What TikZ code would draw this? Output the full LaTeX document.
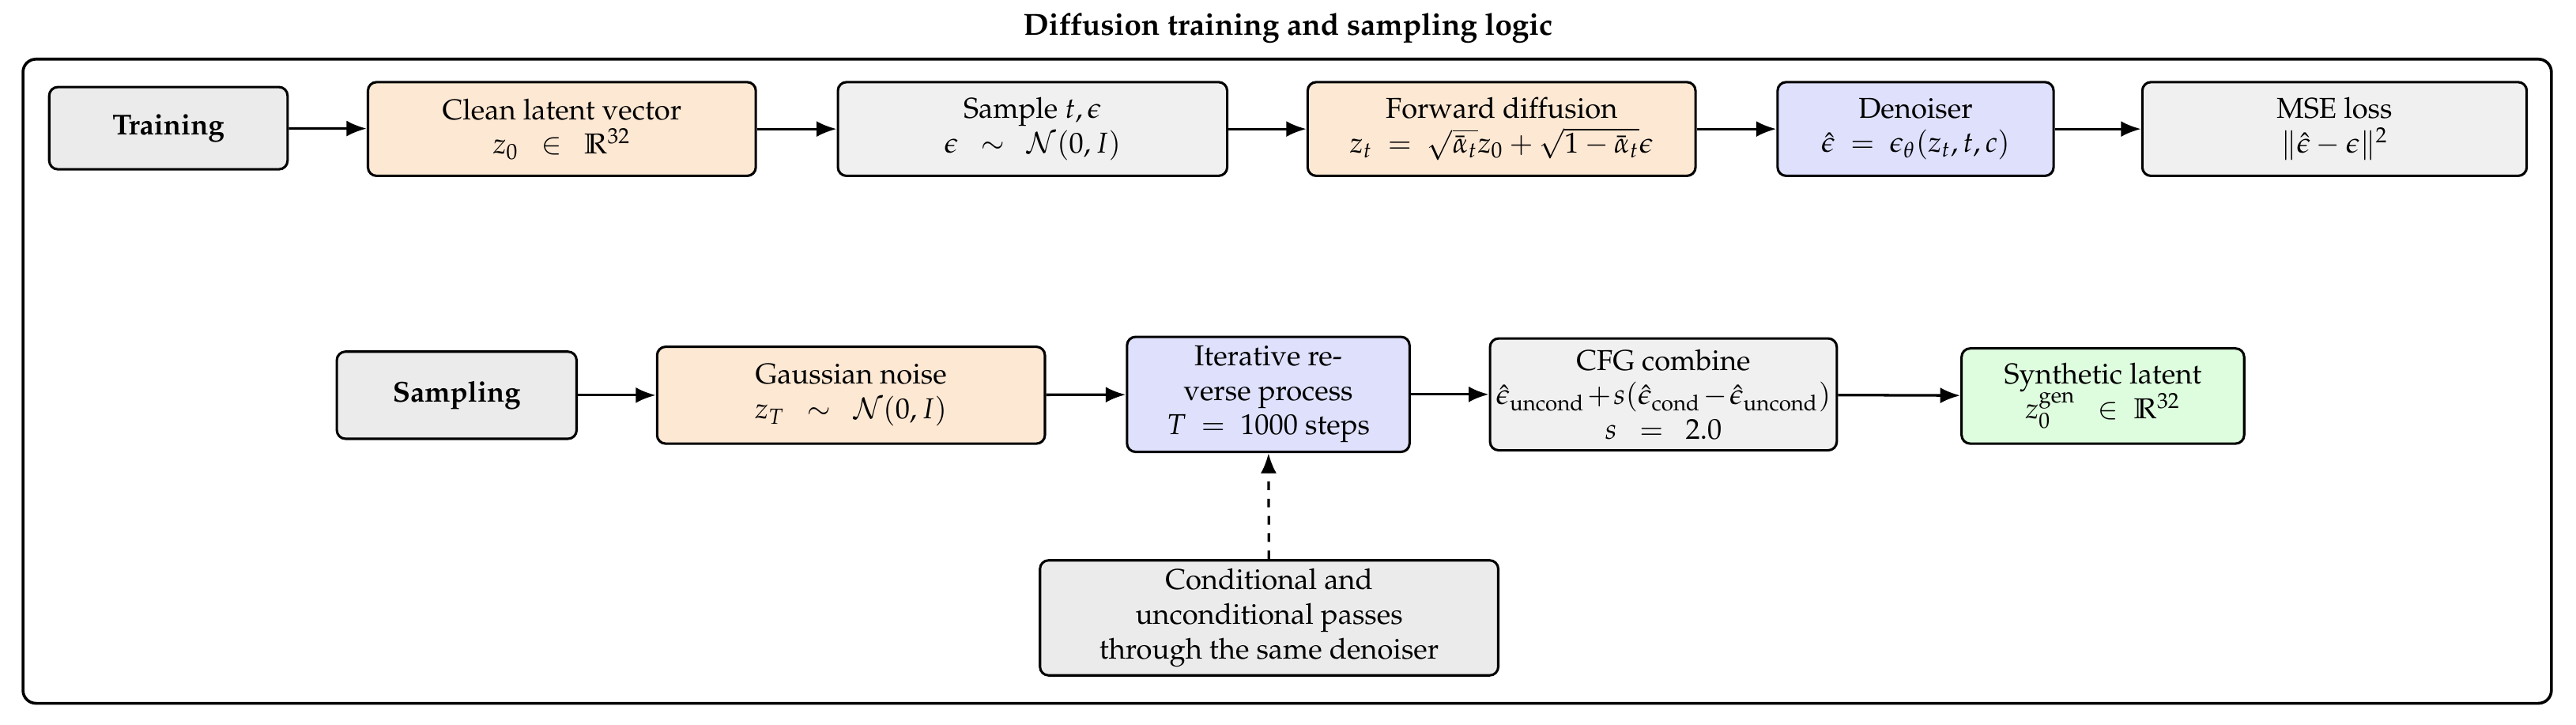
\documentclass[tikz,border=0pt]{standalone}
\usepackage[T1]{fontenc}
\usepackage{amsmath}
\usepackage{mathpazo}
\usetikzlibrary{arrows.meta}
\definecolor{cgray}{RGB}{235,235,235}
\definecolor{lgray}{RGB}{240,240,240}
\definecolor{corange}{RGB}{253,232,211}
\definecolor{cblue}{RGB}{222,224,252}
\definecolor{cgreen}{RGB}{222,252,222}
\tikzset{
  box/.style={draw, line width=0.85pt, rounded corners=3pt, align=center, inner sep=2pt},
  arr/.style={-{Latex[length=7pt,width=5.5pt]}, line width=0.9pt},
}
\begin{document}
\begin{tikzpicture}[x=0.5714pt,y=-0.5714pt]
\useasboundingbox (0,0) rectangle (1568,441);
\node[font=\bfseries\fontsize{10.6}{13}\selectfont] (title) at (784,17) {Diffusion training and sampling logic};
\draw[line width=1pt, rounded corners=4.5pt] (14,36) rectangle (1553,428);
% row 1
\node[box, fill=cgray, minimum width=82.9pt, minimum height=28.6pt] (train) at (102.5,78) {\textbf{Training}};
\node[box, fill=corange, minimum width=134.9pt, minimum height=32.6pt] (clean) at (342,78.5) {Clean latent vector\\$z_0\ \ \in\ \ \mathbb{R}^{32}$};
\node[box, fill=lgray, minimum width=135.4pt, minimum height=32.6pt] (sample) at (628.5,78.5) {Sample $t,\epsilon$\\$\epsilon\ \ \sim\ \ \mathcal{N}(0,I)$};
\node[box, fill=corange, minimum width=134.9pt, minimum height=32.6pt] (fwd) at (914,78.5) {Forward diffusion\\$z_t\ =\ \sqrt{\bar\alpha_t}z_0+\sqrt{1-\bar\alpha_t}\epsilon$};
\node[box, fill=cblue, minimum width=96pt, minimum height=32.6pt] (den) at (1166,78.5) {Denoiser\\$\hat\epsilon\ =\ \epsilon_\theta(z_t,t,c)$};
\node[box, fill=lgray, minimum width=133.7pt, minimum height=32.6pt] (mse) at (1421,78.5) {MSE loss\\$\|\hat\epsilon-\epsilon\|^2$};
% row 2
\node[box, fill=cgray, minimum width=83.4pt, minimum height=30.3pt] (samp) at (278,240.5) {\textbf{Sampling}};
\node[box, fill=corange, minimum width=134.9pt, minimum height=33.7pt] (gauss) at (518,240.5) {Gaussian noise\\$z_T\ \ \sim\ \ \mathcal{N}(0,I)$};
\node[box, fill=cblue, minimum width=98.3pt, minimum height=40pt] (iter) at (772,240) {Iterative re-\\verse process\\$T\ =\ 1000$ steps};
\node[box, fill=lgray, minimum width=120.6pt, minimum height=38.9pt, inner sep=1pt] (cfg) at (1012.5,240) {CFG combine\\$\medmuskip=1.5mu\hat\epsilon_{\mathrm{uncond}}+s(\hat\epsilon_{\mathrm{cond}}-\hat\epsilon_{\mathrm{uncond}})$\\$s\ \ =\ \ 2.0$};
\node[box, fill=cgreen, minimum width=98.3pt, minimum height=33.1pt] (synth) at (1280,241) {Synthetic latent\\$z_0^{\mathrm{gen}}\ \ \in\ \mathbb{R}^{32}$};
\node[box, fill=cgray, minimum width=159.4pt, minimum height=40pt] (cond) at (772.5,376) {Conditional and\\unconditional passes\\through the same denoiser};
% connectors
\draw[arr] (train) -- (clean);
\draw[arr] (clean) -- (sample);
\draw[arr] (sample) -- (fwd);
\draw[arr] (fwd) -- (den);
\draw[arr] (den) -- (mse);
\draw[arr] (samp) -- (gauss);
\draw[arr] (gauss) -- (iter);
\draw[arr] (iter) -- (cfg);
\draw[arr] (cfg) -- (synth);
\draw[arr, dashed] (cond) -- (iter);
\end{tikzpicture}
\end{document}
